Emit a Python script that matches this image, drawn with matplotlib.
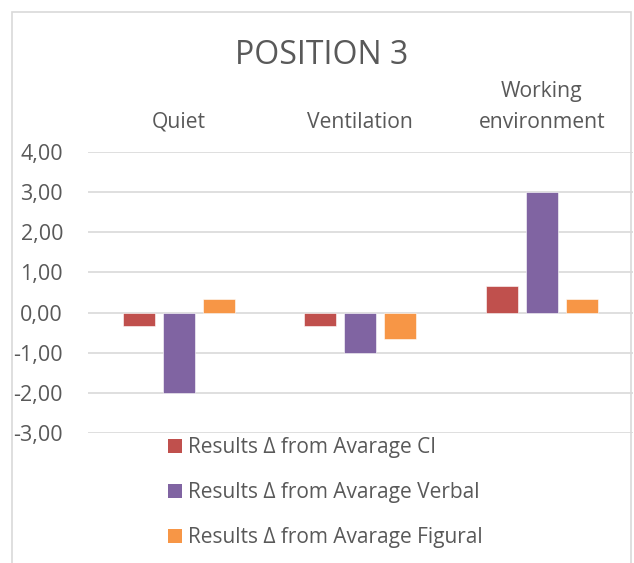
import matplotlib
matplotlib.use("Agg")
import matplotlib.pyplot as plt
from matplotlib.patches import Rectangle, Patch
from matplotlib.ticker import FuncFormatter
import numpy as np

title = "POSITION 3"
categories = ["Quiet", "Ventilation", "Working\nenvironment"]
series_names = ["Results Δ from Avarage CI",
                "Results Δ from Avarage Verbal",
                "Results Δ from Avarage Figural"]
ci_values = [-0.33, -0.33, 0.67]
verbal_values = [-2.00, -1.00, 3.00]
figural_values = [0.33, -0.67, 0.33]
y_ticks = [-3, -2, -1, 0, 1, 2, 3, 4]

colors = ["#C0504D", "#8064A2", "#F79646"]
text_color = "#595959"
grid_color = "#D9D9D9"

plt.rcParams['font.family'] = ['Open Sans', 'DejaVu Sans']

W, H = 634, 563
fig = plt.figure(figsize=(W / 100, H / 100), dpi=100)

ax_left, ax_right = 88 / W, 632.5 / W
ax_top, ax_bottom = 1 - 152 / H, 1 - 433 / H
ax = fig.add_axes([ax_left, ax_bottom, ax_right - ax_left, ax_top - ax_bottom])

x = np.arange(len(categories))
bw = 0.176
step = 0.22
all_series = [ci_values, verbal_values, figural_values]
for i, (vals, c) in enumerate(zip(all_series, colors)):
    ax.bar(x + (i - 1) * step, vals, width=bw, color=c, zorder=3,
           edgecolor="white", linewidth=0.4)

ax.set_xlim(-0.5, 2.5)
ax.set_ylim(-3, 4)
ax.set_yticks(y_ticks)
ax.yaxis.set_major_formatter(FuncFormatter(lambda v, p: f"{v:.2f}".replace('.', ',')))
ax.grid(axis='y', color=grid_color, linewidth=1.2, zorder=0)
ax.set_axisbelow(True)
for s in ax.spines.values():
    s.set_visible(False)

ax.xaxis.tick_top()
ax.set_xticks(x)
ax.set_xticklabels(categories, linespacing=1.6)
ax.tick_params(axis='x', length=0, pad=14, labelsize=15.2, colors=text_color)
ax.tick_params(axis='y', length=0, pad=18, labelsize=15.5, colors=text_color)

fig.text(322 / W, 1 - 56 / H, title, ha='center', va='center',
         fontsize=23, color=text_color)

handles = [Patch(facecolor=c, edgecolor='none') for c in colors]
leg = fig.legend(handles, series_names, loc='upper left',
                 bbox_to_anchor=(153 / W, 1 - 422.5 / H),
                 frameon=False, fontsize=15, labelcolor=text_color,
                 handlelength=0.67, handleheight=0.67, handletextpad=0.3,
                 labelspacing=1.16, borderpad=0.2)

# chart border
fig.patches.append(Rectangle((12 / W, -0.05), (631 - 12) / W, (1 - 12 / H) + 0.05,
                             transform=fig.transFigure, fill=False,
                             edgecolor=grid_color, linewidth=1.2, clip_on=False))

fig.savefig("out.png", dpi=100)
